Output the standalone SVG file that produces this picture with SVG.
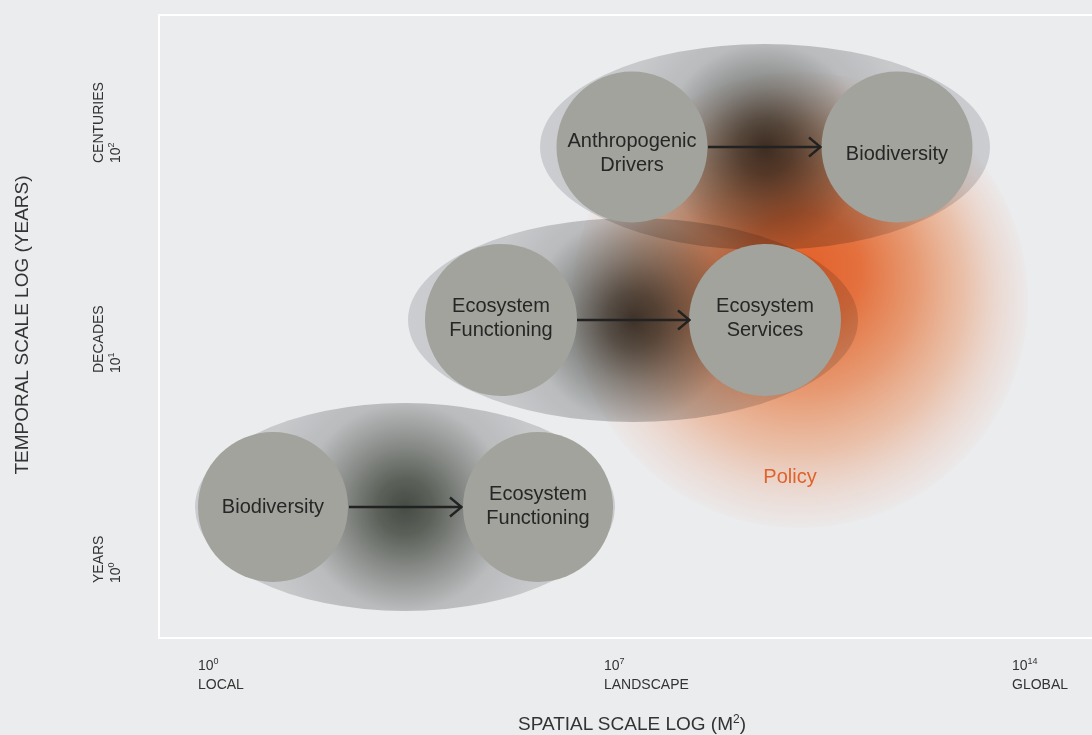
<svg xmlns="http://www.w3.org/2000/svg" width="1092" height="735" viewBox="0 0 1092 735">
  <defs>
    <style>
      .node circle { fill: #a1a39c; }
      .node text { font-family: "Liberation Sans", Arial, sans-serif; font-size: 20px; fill: #262626; text-anchor: middle; }
      .band { mix-blend-mode: multiply; }
      .axis { font-family: "Liberation Sans", Arial, sans-serif; fill: #333333; }
      .tick { font-size: 14px; }
      .title { font-size: 19px; }
      .conn line { stroke: #222222; stroke-width: 2.4; fill: none; }
    </style>
    <!-- open chevron arrowhead -->
    <marker id="arrow" viewBox="0 0 14 22" refX="13" refY="11" markerWidth="14" markerHeight="22" markerUnits="userSpaceOnUse" orient="auto">
      <path d="M1,1.5 L12.5,11 L1,20.5" fill="none" stroke="#222222" stroke-width="2.4"/>
    </marker>
    <!-- orange policy haze, hottest towards its upper left -->
    <radialGradient id="policyFill" gradientUnits="userSpaceOnUse" cx="800" cy="300" r="228" fx="805" fy="260">
      <stop offset="0" stop-color="#e3622b" stop-opacity="1"/>
      <stop offset="0.25" stop-color="#e3662f" stop-opacity="0.92"/>
      <stop offset="0.5" stop-color="#e5773e" stop-opacity="0.7"/>
      <stop offset="0.72" stop-color="#e88c58" stop-opacity="0.45"/>
      <stop offset="0.88" stop-color="#eaa07c" stop-opacity="0.22"/>
      <stop offset="1" stop-color="#eaa282" stop-opacity="0.04"/>
    </radialGradient>
    <!-- dark core fading to pale grey rim, one per band -->
    <radialGradient id="bandTop" gradientUnits="userSpaceOnUse" cx="765" cy="147" r="230">
      <stop offset="0" stop-color="#433f39"/>
      <stop offset="0.12" stop-color="#5e5d57"/>
      <stop offset="0.27" stop-color="#929491"/>
      <stop offset="0.45" stop-color="#c9caca"/>
      <stop offset="0.65" stop-color="#d8d9da"/>
      <stop offset="1" stop-color="#dddee0"/>
    </radialGradient>
    <radialGradient id="bandMid" gradientUnits="userSpaceOnUse" cx="633" cy="320" r="230">
      <stop offset="0" stop-color="#433f39"/>
      <stop offset="0.12" stop-color="#5e5d57"/>
      <stop offset="0.27" stop-color="#929491"/>
      <stop offset="0.45" stop-color="#c9caca"/>
      <stop offset="0.65" stop-color="#d8d9da"/>
      <stop offset="1" stop-color="#dddee0"/>
    </radialGradient>
    <radialGradient id="bandLow" gradientUnits="userSpaceOnUse" cx="405" cy="507" r="230">
      <stop offset="0" stop-color="#4b5249"/>
      <stop offset="0.12" stop-color="#63685f"/>
      <stop offset="0.27" stop-color="#939691"/>
      <stop offset="0.45" stop-color="#c9caca"/>
      <stop offset="0.65" stop-color="#d8d9da"/>
      <stop offset="1" stop-color="#dddee0"/>
    </radialGradient>
  </defs>

  <!-- background and plot frame -->
  <rect x="0" y="0" width="1092" height="735" fill="#ebecee"/>
  <rect x="159" y="15" width="960" height="623" fill="none" stroke="#ffffff" stroke-width="2"/>

  <!-- policy haze -->
  <g id="policy">
    <circle cx="800" cy="300" r="228" fill="url(#policyFill)"/>
    <text x="790" y="483" font-family="Liberation Sans, Arial, sans-serif" font-size="20" fill="#e0622c" text-anchor="middle">Policy</text>
  </g>

  <!-- scale bands -->
  <g id="band-low"><ellipse class="band" cx="405" cy="507" rx="210" ry="104" fill="url(#bandLow)"/></g>
  <g id="band-mid"><ellipse class="band" cx="633" cy="320" rx="225" ry="102" fill="url(#bandMid)"/></g>
  <g id="band-top"><ellipse class="band" cx="765" cy="147" rx="225" ry="103" fill="url(#bandTop)"/></g>

  <!-- nodes -->
  <g id="node-anthropogenic-drivers" class="node">
    <circle cx="632" cy="147" r="75.5"/>
    <text x="632" y="147">Anthropogenic</text>
    <text x="632" y="171">Drivers</text>
  </g>
  <g id="node-biodiversity-global" class="node">
    <circle cx="897" cy="147" r="75.5"/>
    <text x="897" y="160">Biodiversity</text>
  </g>
  <g id="node-ecosystem-functioning-landscape" class="node">
    <circle cx="501" cy="320" r="76"/>
    <text x="501" y="312">Ecosystem</text>
    <text x="501" y="336">Functioning</text>
  </g>
  <g id="node-ecosystem-services" class="node">
    <circle cx="765" cy="320" r="76"/>
    <text x="765" y="312">Ecosystem</text>
    <text x="765" y="336">Services</text>
  </g>
  <g id="node-biodiversity-local" class="node">
    <circle cx="273" cy="507" r="75"/>
    <text x="273" y="513">Biodiversity</text>
  </g>
  <g id="node-ecosystem-functioning-local" class="node">
    <circle cx="538" cy="507" r="75"/>
    <text x="538" y="500">Ecosystem</text>
    <text x="538" y="524">Functioning</text>
  </g>

  <!-- connectors -->
  <g id="connectors" class="conn">
    <line x1="708" y1="147" x2="821" y2="147" marker-end="url(#arrow)"/>
    <line x1="577" y1="320" x2="690" y2="320" marker-end="url(#arrow)"/>
    <line x1="349" y1="507" x2="462" y2="507" marker-end="url(#arrow)"/>
  </g>

  <!-- temporal axis -->
  <g id="temporal-axis" class="axis">
    <text class="title" transform="translate(28,325) rotate(-90)" text-anchor="middle">TEMPORAL SCALE LOG (YEARS)</text>
    <text class="tick" transform="translate(103,163) rotate(-90)">CENTURIES</text>
    <text class="tick" transform="translate(120,163) rotate(-90)">10<tspan font-size="9" dy="-6">2</tspan></text>
    <text class="tick" transform="translate(103,373) rotate(-90)">DECADES</text>
    <text class="tick" transform="translate(120,373) rotate(-90)">10<tspan font-size="9" dy="-6">1</tspan></text>
    <text class="tick" transform="translate(103,583) rotate(-90)">YEARS</text>
    <text class="tick" transform="translate(120,583) rotate(-90)">10<tspan font-size="9" dy="-6">0</tspan></text>
  </g>

  <!-- spatial axis -->
  <g id="spatial-axis" class="axis">
    <text class="tick" x="198" y="670">10<tspan font-size="9" dy="-6">0</tspan></text>
    <text class="tick" x="198" y="689">LOCAL</text>
    <text class="tick" x="604" y="670">10<tspan font-size="9" dy="-6">7</tspan></text>
    <text class="tick" x="604" y="689">LANDSCAPE</text>
    <text class="tick" x="1012" y="670">10<tspan font-size="9" dy="-6">14</tspan></text>
    <text class="tick" x="1012" y="689">GLOBAL</text>
    <text class="title" x="632" y="730" text-anchor="middle">SPATIAL SCALE LOG (M<tspan font-size="12" dy="-7">2</tspan><tspan dy="7">)</tspan></text>
  </g>
</svg>
